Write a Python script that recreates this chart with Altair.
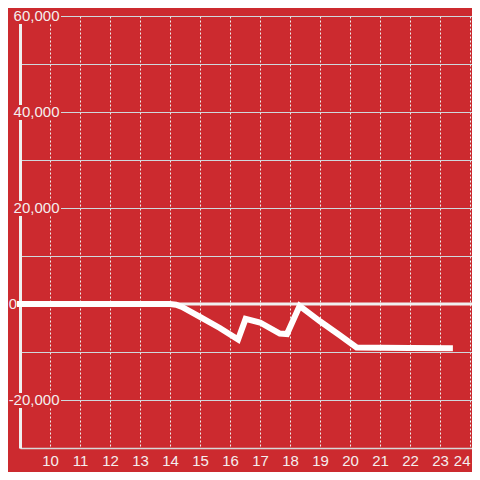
import altair as alt
import pandas as pd

# Series values
x_vals = [9, 10, 11, 12, 13, 14, 14.2, 14.4, 15, 15.66, 16.27, 16.52, 17.0, 17.66, 17.9, 18.32, 19.0, 19.66, 20.22, 21, 22, 23.33]
y_vals = [0, 0, 0, 0, 0, 0, -150, -600, -2700, -5000, -7400, -3100, -3850, -6150, -6250, -400, -3600, -6500, -9050, -9100, -9150, -9200]

# Axis ticks and labels
x_ticks = [10, 11, 12, 13, 14, 15, 16, 17, 18, 19, 20, 21, 22, 23, 24]
y_grid = [-30000, -20000, -10000, 0, 10000, 20000, 30000, 40000, 50000, 60000]
y_label_values = [60000, 40000, 20000, 0, -20000]
y_label_texts = ["60,000", "40,000", "20,000", "0", "-20,000"]
zero_line = [0]

BG = "#cc2a2f"
FONT = "Liberation Sans"
LABEL = "#f4eeee"

line_df = pd.DataFrame({"x": x_vals, "v": y_vals})
lab_df = pd.DataFrame({"v": y_label_values, "label": y_label_texts})
zero_df = pd.DataFrame({"v": zero_line})

yscale = alt.Scale(domain=[-30000, 60000], nice=False, zero=False)
yaxis = alt.Axis(values=y_grid, labels=False, ticks=False, tickSize=0, title=None,
                 grid=True, gridColor="#cfd8dc", gridWidth=1,
                 domain=True, domainColor="#f0f0f0", domainWidth=3)
y_enc = alt.Y("v:Q", scale=yscale, axis=yaxis, title=None)

xscale = alt.Scale(domain=[9, 24.067], nice=False, zero=False)
xaxis = alt.Axis(values=x_ticks, ticks=False, tickSize=0, title=None, format="d",
                 grid=True, gridColor="#eeeeee", gridDash=[2, 2], gridWidth=1,
                 domain=True, domainColor="#d8d8d8", domainWidth=1.5,
                 labelFont=FONT, labelFontSize=15, labelColor=LABEL,
                 labelPadding=5, labelFlush=5)

zero_rule = alt.Chart(zero_df).mark_rule(color="#f0f0f0", strokeWidth=3).encode(y=y_enc)

boxes = alt.Chart(lab_df).transform_filter("datum.v != 0").mark_rule(
    color=BG, strokeWidth=15, strokeCap="butt", yOffset=0.5
).encode(x=alt.value(-12), x2=alt.value(41), y=y_enc)

line = alt.Chart(line_df).mark_line(
    color="#ffffff", strokeWidth=6, strokeCap="square"
).encode(x=alt.X("x:Q", scale=xscale, axis=xaxis, title=None), y=y_enc)

labels = alt.Chart(lab_df).transform_filter("datum.v != 0").mark_text(
    align="right", baseline="middle", font=FONT, fontSize=15, color=LABEL
).encode(x=alt.value(39.5), y=y_enc, text="label:N")

zero_label = alt.Chart(lab_df).transform_filter("datum.v == 0").mark_text(
    align="right", baseline="middle", font=FONT, fontSize=15, color=LABEL
).encode(x=alt.value(-3), y=y_enc, text="label:N")

chart = alt.layer(zero_rule, boxes, line, labels, zero_label).properties(
    width=452, height=432,
    autosize="none",
    padding={"left": 12, "top": 8, "right": 0, "bottom": 24},
    background=BG,
).configure_view(stroke=None)

chart.save("out.html", embed_options={"renderer": "svg", "actions": False})
